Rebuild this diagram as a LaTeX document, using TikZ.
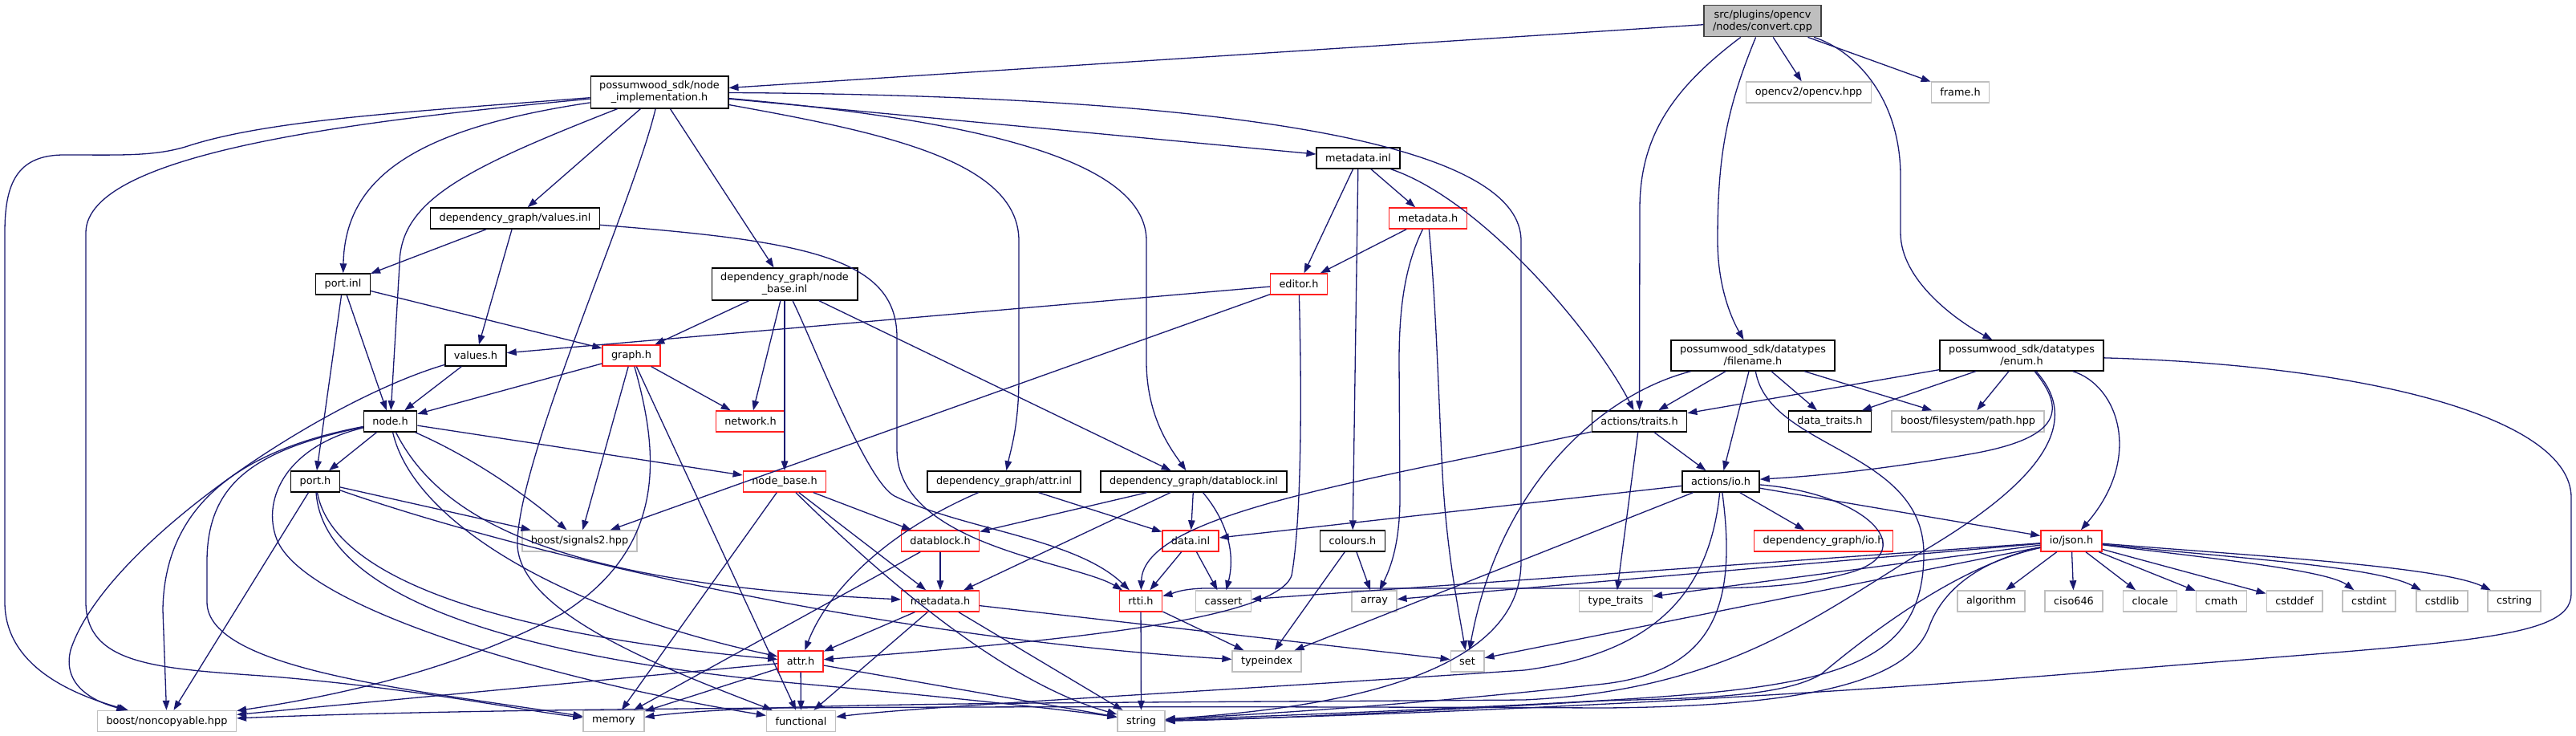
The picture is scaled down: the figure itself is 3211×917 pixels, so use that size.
\documentclass[tikz,border=0pt]{standalone}
\usepackage{fontspec}
\setmainfont{DejaVu Sans}
\usetikzlibrary{arrows.meta}
\definecolor{lk}{HTML}{191970}
\definecolor{grayb}{HTML}{BFBFBF}
\definecolor{rootb}{HTML}{404040}
\definecolor{redb}{HTML}{FF2020}
\begin{document}
\begin{tikzpicture}[x=1pt,y=-1pt,
  bx/.style={draw=black,line width=1.4pt,fill=white,inner xsep=11pt,inner ysep=6pt,minimum height=26pt,align=center,font=\fontsize{12.85pt}{15pt}\selectfont},
  rb/.style={bx,draw=redb},
  gb/.style={bx,draw=grayb},
  rt/.style={bx,fill=grayb,draw=rootb},
  lnk/.style={draw=lk,line width=1.3pt,-{Triangle[length=12pt,width=8.5pt]}}]
\fill[white] (0,0) rectangle (3211,917);
\useasboundingbox (0,0) rectangle (3211,917);
% nodes
\node[rt] (cpp) at (2197,26) {src/plugins/opencv\\/nodes/convert.cpp};
\node[bx] (nimpl) at (822,115) {possumwood\_sdk/node\\\_implementation.h};
\node[gb] (opencv) at (2254.5,115) {opencv2/opencv.hpp};
\node[gb] (frame) at (2443.5,115) {frame.h};
\node[bx] (mdinl) at (1693,197) {metadata.inl};
\node[bx] (valinl) at (642,272) {dependency\_graph/values.inl};
\node[rb] (mdh1) at (1780,272) {metadata.h};
\node[bx] (portinl) at (427.5,354) {port.inl};
\node[bx] (nbinl) at (978,354) {dependency\_graph/node\\\_base.inl};
\node[rb] (editor) at (1619,354) {editor.h};
\node[bx] (filename) at (2185,443) {possumwood\_sdk/datatypes\\/filename.h};
\node[bx] (enum) at (2520,443) {possumwood\_sdk/datatypes\\/enum.h};
\node[bx] (valh) at (593,443) {values.h};
\node[rb] (graph) at (787,443) {graph.h};
\node[bx] (nodeh) at (486.5,525) {node.h};
\node[rb] (network) at (935.5,525) {network.h};
\node[bx] (traits) at (2043.5,525) {actions/traits.h};
\node[bx] (datatraits) at (2281,525) {data\_traits.h};
\node[gb] (fspath) at (2453,525) {boost/filesystem/path.hpp};
\node[bx] (porth) at (393,600) {port.h};
\node[rb] (nbh) at (978,600) {node\_base.h};
\node[bx] (attrinl) at (1251.5,600) {dependency\_graph/attr.inl};
\node[bx] (dbinl) at (1488,600) {dependency\_graph/datablock.inl};
\node[bx] (io) at (2145,600) {actions/io.h};
\node[gb] (signals) at (722.5,674) {boost/signals2.hpp};
\node[rb] (dbh) at (1172,674) {datablock.h};
\node[rb] (datainl) at (1484,674) {data.inl};
\node[bx] (colours) at (1686,674) {colours.h};
\node[rb] (dgio) at (2273,674) {dependency\_graph/io.h};
\node[rb] (json) at (2582,674) {io/json.h};
\node[rb] (mdh2) at (1172,749) {metadata.h};
\node[rb] (rtti) at (1422,749) {rtti.h};
\node[gb] (cassert) at (1525,749) {cassert};
\node[gb] (array) at (1713,749) {array};
\node[gb] (typetraits) at (2014,749) {type\_traits};
\node[gb] (algorithm) at (2482,749) {algorithm};
\node[gb] (ciso) at (2585,749) {ciso646};
\node[gb] (clocale) at (2680,749) {clocale};
\node[gb] (cmath) at (2769,749) {cmath};
\node[gb] (cstddef) at (2860,749) {cstddef};
\node[gb] (cstdint) at (2953,749) {cstdint};
\node[gb] (cstdlib) at (3044,749) {cstdlib};
\node[gb] (cstring) at (3134,749) {cstring};
\node[rb] (attr) at (998,824) {attr.h};
\node[gb] (typeindex) at (1579,824) {typeindex};
\node[gb] (set) at (1829,824) {set};
\node[gb] (noncopy) at (208,898.5) {boost/noncopyable.hpp};
\node[gb] (memory) at (765,898.5) {memory};
\node[gb] (functional) at (998.5,898.5) {functional};
\node[gb] (string) at (1422.5,898.5) {string};
% edges from convert.cpp
\draw[lnk] (cpp) -- (nimpl);
\draw[lnk] (cpp) -- (opencv);
\draw[lnk] (cpp) -- (frame);
\draw[lnk] (cpp) .. controls (2085,110) and (2044,170) .. (2044,260) -- (traits);
\draw[lnk] (cpp) .. controls (2150,140) and (2141,200) .. (2141,300) .. controls (2141,360) and (2160,400) .. (filename);
\draw[lnk] (cpp) .. controls (2310,62) and (2369,120) .. (2369,220) -- (2369,290) .. controls (2369,350) and (2440,400) .. (enum);
% node_implementation.h
\draw[lnk] (nimpl) .. controls (500,140) and (330,150) .. (231,183) .. controls (190,195) and (150,193) .. (80,193) .. controls (20,193) and (6,230) .. (6,290) -- (6,750) .. controls (6,830) and (90,865) .. (noncopy);
\draw[lnk] (nimpl) .. controls (450,150) and (107,190) .. (107,290) -- (107,750) .. controls (107,830) and (200,833) .. (340,843) .. controls (520,858) and (650,885) .. (memory);
\draw[lnk] (nimpl) .. controls (520,160) and (430,220) .. (portinl);
\draw[lnk] (nimpl) .. controls (580,210) and (498,250) .. (498,330) -- (nodeh);
\draw[lnk] (nimpl) -- (valinl);
\draw[lnk] (nimpl) .. controls (790,250) and (650,560) .. (645,673) .. controls (640,760) and (820,830) .. (functional);
\draw[lnk] (nimpl) -- (nbinl);
\draw[lnk] (nimpl) .. controls (1100,165) and (1270,200) .. (1270,300) -- (1270,470) .. controls (1270,530) and (1260,560) .. (attrinl);
\draw[lnk] (nimpl) .. controls (1220,150) and (1429,200) .. (1429,300) -- (1429,450) .. controls (1429,520) and (1460,560) .. (dbinl);
\draw[lnk] (nimpl) -- (mdinl);
\draw[lnk] (nimpl) .. controls (1350,118) and (1896,150) .. (1896,300) -- (1896,700) .. controls (1896,860) and (1600,885) .. (string);
% values.inl, port.inl, node_base.inl
\draw[lnk] (valinl) -- (portinl);
\draw[lnk] (valinl) -- (valh);
\draw[lnk] (valinl) .. controls (1000,300) and (1118,320) .. (1118,420) -- (1118,560) .. controls (1118,680) and (1340,700) .. (rtti);
\draw[lnk] (portinl) -- (graph);
\draw[lnk] (portinl) -- (nodeh);
\draw[lnk] (portinl) -- (porth);
\draw[lnk] (nbinl) -- (graph);
\draw[lnk] (nbinl) -- (network);
\draw[lnk] (nbinl) -- (nbh);
\draw[lnk] (nbinl) .. controls (1015,430) and (1080,600) .. (1115,618) .. controls (1200,660) and (1340,670) .. (rtti);
\draw[lnk] (nbinl) -- (dbinl);
% metadata.inl, metadata.h, editor.h
\draw[lnk] (mdinl) -- (editor);
\draw[lnk] (mdinl) -- (mdh1);
\draw[lnk] (mdinl) -- (colours);
\draw[lnk] (mdinl) .. controls (1850,250) and (1990,420) .. (traits);
\draw[lnk] (mdh1) -- (editor);
\draw[lnk] (mdh1) .. controls (1752,330) and (1744,380) .. (1744,450) -- (1745,620) .. controls (1745,680) and (1732,710) .. (array);
\draw[lnk] (mdh1) .. controls (1792,400) and (1795,560) .. (1800,620) .. controls (1806,700) and (1818,760) .. (set);
\draw[lnk] (editor) -- (valh);
\draw[lnk] (editor) -- (signals);
\draw[lnk] (editor) .. controls (1623,500) and (1622,650) .. (1610,717) .. controls (1590,775) and (1300,800) .. (attr);
% filename.h
\draw[lnk] (filename) -- (traits);
\draw[lnk] (filename) -- (io);
\draw[lnk] (filename) -- (datatraits);
\draw[lnk] (filename) -- (fspath);
\draw[lnk] (filename) .. controls (2000,490) and (1870,600) .. (set);
\draw[lnk] (filename) .. controls (2205,560) and (2398,560) .. (2398,690) .. controls (2398,850) and (2250,860) .. (1900,878) .. controls (1700,888) and (1500,895) .. (string);
% enum.h
\draw[lnk] (enum) -- (traits);
\draw[lnk] (enum) -- (datatraits);
\draw[lnk] (enum) -- (fspath);
\draw[lnk] (enum) .. controls (2575,510) and (2570,545) .. (2460,565) .. controls (2320,590) and (2230,595) .. (io);
\draw[lnk] (enum) .. controls (2640,480) and (2672,570) .. (json);
\draw[lnk] (enum) .. controls (2950,455) and (3205,520) .. (3205,620) -- (3205,740) .. controls (3205,800) and (3050,800) .. (2600,838) .. controls (2150,875) and (1700,892) .. (string);
\draw[lnk] (enum) .. controls (2590,520) and (2560,590) .. (2400,685) .. controls (2260,770) and (2150,860) .. (1900,872) .. controls (1400,876) and (950,874) .. (memory);
% values.h, graph.h
\draw[lnk] (valh) -- (nodeh);
\draw[lnk] (valh) .. controls (400,500) and (130,680) .. (88,810) .. controls (78,850) and (110,872) .. (noncopy);
\draw[lnk] (graph) -- (nodeh);
\draw[lnk] (graph) -- (network);
\draw[lnk] (graph) -- (signals);
\draw[lnk] (graph) .. controls (820,560) and (835,680) .. (700,765) .. controls (560,840) and (400,870) .. (noncopy);
\draw[lnk] (graph) -- (functional);
% node.h
\draw[lnk] (nodeh) -- (porth);
\draw[lnk] (nodeh) -- (nbh);
\draw[lnk] (nodeh) .. controls (600,575) and (665,625) .. (signals);
\draw[lnk] (nodeh) .. controls (330,555) and (205,610) .. (203,760) -- (noncopy);
\draw[lnk] (nodeh) .. controls (320,560) and (258,600) .. (258,700) -- (258,750) .. controls (258,835) and (520,860) .. (memory);
\draw[lnk] (nodeh) .. controls (360,555) and (325,620) .. (345,672) .. controls (380,760) and (700,850) .. (functional);
\draw[lnk] (nodeh) .. controls (550,650) and (700,728) .. (mdh2);
\draw[lnk] (nodeh) .. controls (515,650) and (700,760) .. (attr);
% port.h
\draw[lnk] (porth) -- (signals);
\draw[lnk] (porth) -- (noncopy);
\draw[lnk] (porth) .. controls (415,720) and (620,790) .. (attr);
\draw[lnk] (porth) .. controls (650,690) and (1100,795) .. (typeindex);
\draw[lnk] (porth) .. controls (405,760) and (700,825) .. (1000,852) .. controls (1200,870) and (1350,887) .. (string);
% node_base.h
\draw[lnk] (nbh) -- (memory);
\draw[lnk] (nbh) .. controls (1100,720) and (1250,850) .. (string);
\draw[lnk] (nbh) -- (mdh2);
\draw[lnk] (nbh) -- (dbh);
% attr.inl, datablock.inl, datablock.h, data.inl
\draw[lnk] (attrinl) .. controls (1100,665) and (1030,740) .. (attr);
\draw[lnk] (attrinl) -- (datainl);
\draw[lnk] (dbinl) -- (dbh);
\draw[lnk] (dbinl) -- (mdh2);
\draw[lnk] (dbinl) -- (datainl);
\draw[lnk] (dbinl) .. controls (1530,650) and (1540,690) .. (cassert);
\draw[lnk] (dbh) -- (mdh2);
\draw[lnk] (dbh) -- (memory);
\draw[lnk] (datainl) -- (rtti);
\draw[lnk] (datainl) -- (cassert);
% actions/traits.h, colours.h, actions/io.h
\draw[lnk] (traits) .. controls (1700,600) and (1425,640) .. (rtti);
\draw[lnk] (traits) -- (io);
\draw[lnk] (traits) -- (typetraits);
\draw[lnk] (colours) -- (array);
\draw[lnk] (colours) -- (typeindex);
\draw[lnk] (io) -- (datainl);
\draw[lnk] (io) -- (typeindex);
\draw[lnk] (io) -- (dgio);
\draw[lnk] (io) -- (json);
\draw[lnk] (io) .. controls (2330,615) and (2400,690) .. (2300,715) .. controls (2240,730) and (2200,733) .. (2100,733) -- (1500,733) .. controls (1470,734) and (1460,740) .. (rtti);
\draw[lnk] (io) .. controls (2130,750) and (2050,815) .. (1900,835) .. controls (1500,862) and (1150,880) .. (functional);
\draw[lnk] (io) .. controls (2165,750) and (2140,835) .. (2000,852) .. controls (1700,885) and (1500,893) .. (string);
% rtti.h, metadata.h, attr.h
\draw[lnk] (rtti) -- (typeindex);
\draw[lnk] (rtti) -- (string);
\draw[lnk] (mdh2) -- (attr);
\draw[lnk] (mdh2) -- (functional);
\draw[lnk] (mdh2) -- (string);
\draw[lnk] (mdh2) -- (set);
\draw[lnk] (attr) -- (noncopy);
\draw[lnk] (attr) -- (memory);
\draw[lnk] (attr) -- (functional);
\draw[lnk] (attr) -- (string);
% io/json.h
\draw[lnk] (json) -- (algorithm);
\draw[lnk] (json) -- (ciso);
\draw[lnk] (json) -- (clocale);
\draw[lnk] (json) -- (cmath);
\draw[lnk] (json) -- (cstddef);
\draw[lnk] (json) .. controls (2750,695) and (2900,710) .. (cstdint);
\draw[lnk] (json) .. controls (2780,695) and (2960,705) .. (cstdlib);
\draw[lnk] (json) .. controls (2800,692) and (3040,705) .. (cstring);
\draw[lnk] (json) -- (array);
\draw[lnk] (json) -- (cassert);
\draw[lnk] (json) -- (typetraits);
\draw[lnk] (json) -- (set);
\draw[lnk] (json) .. controls (2440,705) and (2330,790) .. (2270,840) .. controls (2220,870) and (2100,870) .. (2000,873) .. controls (1800,885) and (1550,897) .. (string);
\draw[lnk] (json) .. controls (2460,700) and (2420,740) .. (2405,780) .. controls (2380,850) and (2250,880) .. (2000,882) .. controls (1500,880) and (700,878) .. (noncopy);
\end{tikzpicture}
\end{document}
